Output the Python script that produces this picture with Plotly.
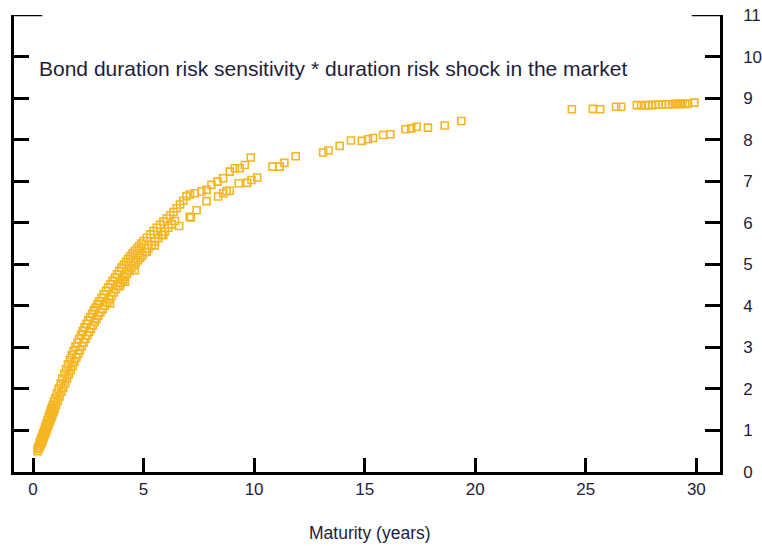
import plotly.graph_objects as go

# Dense band of short maturities (upper track)
mat_short_a = [
    0.20, 0.25, 0.30, 0.35, 0.40, 0.45, 0.50, 0.55, 0.60, 0.65,
    0.70, 0.75, 0.80, 0.85, 0.90, 0.95, 1.00, 1.08, 1.16, 1.25,
    1.33, 1.42, 1.50, 1.58, 1.67, 1.75, 1.83, 1.92, 2.00, 2.08,
    2.17, 2.25, 2.33, 2.42, 2.50, 2.58, 2.67, 2.75, 2.83, 2.92,
    3.00, 3.10, 3.20, 3.30, 3.40, 3.50, 3.60, 3.70, 3.80, 3.90,
    4.00, 4.10, 4.20, 4.30, 4.40, 4.50, 4.60, 4.70, 4.80, 4.90,
    5.00, 5.15, 5.30, 5.45, 5.60, 5.75, 5.90, 6.05, 6.20, 6.35,
    6.50, 6.65, 6.80,
]
sens_short_a = [
    0.55, 0.62, 0.70, 0.78, 0.85, 0.93, 1.00, 1.08, 1.16, 1.24,
    1.32, 1.40, 1.48, 1.55, 1.62, 1.70, 1.78, 1.90, 2.01, 2.13,
    2.25, 2.37, 2.48, 2.59, 2.70, 2.81, 2.92, 3.02, 3.11, 3.20,
    3.30, 3.39, 3.48, 3.57, 3.65, 3.73, 3.81, 3.89, 3.96, 4.04,
    4.11, 4.19, 4.28, 4.36, 4.44, 4.52, 4.60, 4.68, 4.76, 4.84,
    4.92, 4.99, 5.06, 5.13, 5.20, 5.26, 5.32, 5.38, 5.44, 5.50,
    5.56, 5.64, 5.72, 5.80, 5.88, 5.95, 6.03, 6.10, 6.18, 6.26,
    6.35, 6.44, 6.53,
]

# Dense band of short maturities (lower track)
mat_short_b = [
    0.22, 0.28, 0.33, 0.38, 0.43, 0.48, 0.53, 0.58, 0.63, 0.68,
    0.73, 0.78, 0.83, 0.88, 0.93, 0.98, 1.04, 1.12, 1.20, 1.29,
    1.37, 1.46, 1.54, 1.62, 1.71, 1.79, 1.87, 1.96, 2.04, 2.12,
    2.21, 2.29, 2.37, 2.46, 2.54, 2.62, 2.71, 2.79, 2.87, 2.96,
    3.05, 3.15, 3.25, 3.35, 3.45, 3.55, 3.65, 3.75, 3.85, 3.95,
    4.05, 4.15, 4.25, 4.35, 4.45, 4.55, 4.65, 4.75, 4.85, 4.95,
    5.07, 5.22, 5.37, 5.52, 5.67, 5.82, 5.97, 6.12, 6.27, 6.42,
]
sens_short_b = [
    0.50, 0.57, 0.63, 0.69, 0.75, 0.82, 0.89, 0.96, 1.03, 1.10,
    1.17, 1.24, 1.31, 1.38, 1.45, 1.52, 1.61, 1.71, 1.82, 1.93,
    2.03, 2.14, 2.25, 2.35, 2.45, 2.55, 2.65, 2.75, 2.84, 2.93,
    3.03, 3.12, 3.20, 3.29, 3.37, 3.45, 3.53, 3.61, 3.68, 3.76,
    3.84, 3.92, 4.00, 4.08, 4.16, 4.24, 4.32, 4.40, 4.47, 4.55,
    4.62, 4.70, 4.77, 4.84, 4.91, 4.97, 5.04, 5.10, 5.16, 5.22,
    5.29, 5.38, 5.46, 5.55, 5.63, 5.71, 5.79, 5.88, 5.96, 6.04,
]

# Medium maturities, upper branch
mat_mid_up = [6.94, 7.10, 7.32, 7.62, 7.85, 8.07, 8.34, 8.60, 8.90, 9.13, 9.35, 9.58, 9.85]
sens_mid_up = [6.64, 6.68, 6.71, 6.75, 6.79, 6.91, 6.99, 7.07, 7.23, 7.31, 7.31, 7.39, 7.57]

# Medium maturities, lower branch
mat_mid_low = [3.48, 3.93, 4.08, 4.16, 4.61, 5.14, 5.50, 5.89, 6.61, 7.09, 7.14,
               7.40, 7.85, 8.37, 8.60, 8.75, 8.90, 9.30, 9.69, 9.88, 10.14]
sens_mid_low = [4.06, 4.48, 4.62, 4.58, 4.86, 5.30, 5.45, 5.70, 5.92, 6.14, 6.13,
                6.30, 6.52, 6.63, 6.71, 6.76, 6.77, 6.95, 6.96, 7.03, 7.09]

# Long maturities
mat_long = [10.83, 11.16, 11.37, 11.88, 13.12, 13.36, 13.87, 14.38, 14.87, 15.15,
            15.38, 15.83, 16.16, 16.85, 17.11, 17.35, 17.86, 18.62, 19.37]
sens_long = [7.35, 7.35, 7.44, 7.60, 7.69, 7.74, 7.85, 7.98, 7.97, 8.01,
             8.04, 8.11, 8.13, 8.25, 8.27, 8.31, 8.29, 8.34, 8.45]

# Very long maturities
mat_vlong = [24.37, 25.32, 25.65, 26.37, 26.60, 27.31, 27.50, 27.70, 27.85, 28.00,
             28.15, 28.30, 28.45, 28.60, 28.75, 28.90, 29.02, 29.14, 29.26, 29.38,
             29.50, 29.62, 29.91]
sens_vlong = [8.73, 8.74, 8.73, 8.79, 8.79, 8.83, 8.82, 8.83, 8.83, 8.83,
              8.84, 8.84, 8.84, 8.85, 8.85, 8.85, 8.86, 8.86, 8.86, 8.86,
              8.86, 8.87, 8.89]

x_ticks = [0, 5, 10, 15, 20, 25, 30]
y_ticks = list(range(0, 12))

maturity = mat_short_a + mat_short_b + mat_mid_up + mat_mid_low + mat_long + mat_vlong
sensitivity = sens_short_a + sens_short_b + sens_mid_up + sens_mid_low + sens_long + sens_vlong

GOLD = "#F5B623"
INK = "#1d1d3d"
FONT = "Liberation Sans, Arial, sans-serif"

fig = go.Figure(
    go.Scatter(
        x=maturity,
        y=sensitivity,
        mode="markers",
        marker=dict(symbol="square-open", size=7, color=GOLD, line=dict(width=1.6, color=GOLD)),
        hoverinfo="x+y",
    )
)

fig.update_layout(
    width=762,
    height=546,
    margin=dict(l=14, r=42, t=15, b=74),
    paper_bgcolor="white",
    plot_bgcolor="white",
    showlegend=False,
    font=dict(family=FONT, color=INK),
)

fig.update_xaxes(
    range=[-0.86, 31.07],
    tickvals=x_ticks,
    ticks="inside",
    ticklen=14,
    tickwidth=2.5,
    tickcolor="black",
    showline=True,
    linewidth=2.5,
    linecolor="black",
    showgrid=False,
    zeroline=False,
    automargin=False,
    tickfont=dict(size=17, color=INK),
    ticklabelstandoff=0,
)

fig.update_yaxes(
    range=[0, 11],
    side="right",
    tickvals=y_ticks,
    ticks="inside",
    ticklen=15,
    tickwidth=2.5,
    tickcolor="black",
    showline=True,
    mirror="ticks",
    linewidth=2.5,
    linecolor="black",
    showgrid=False,
    zeroline=False,
    automargin=False,
    tickfont=dict(size=17, color=INK),
    ticklabelstandoff=17,
)

# Longer end ticks at the top of both vertical axes
for x0, x1 in [(0.0, 0.04), (0.96, 1.0)]:
    fig.add_shape(
        type="line", xref="paper", yref="y", x0=x0, x1=x1, y0=11, y1=11,
        line=dict(color="black", width=2.5),
    )

fig.add_annotation(
    text="Bond duration risk sensitivity * duration risk shock in the market",
    xref="paper", yref="paper", x=0.033, y=0.884,
    xanchor="left", yanchor="middle", showarrow=False,
    font=dict(size=21, color=INK, family=FONT),
)

fig.add_annotation(
    text="Maturity (years)",
    xref="paper", yref="paper", x=0.504, y=-0.1335,
    xanchor="center", yanchor="middle", showarrow=False,
    font=dict(size=17.5, color=INK, family=FONT),
)

fig.write_html("out.html")
